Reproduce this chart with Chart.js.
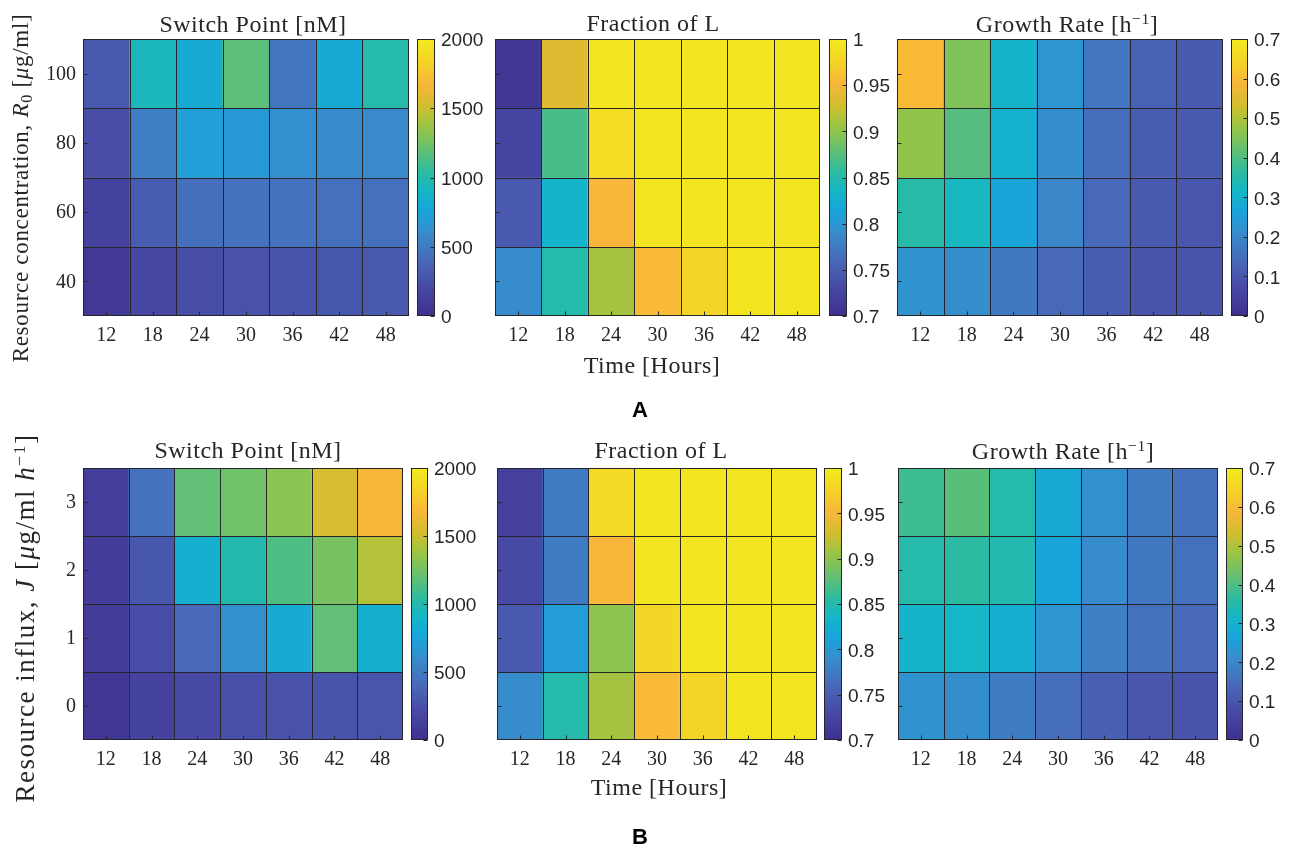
<!DOCTYPE html>
<html>
<head>
<meta charset="utf-8">
<script src="https://cdn.jsdelivr.net/npm/chart.js@4.4.0/dist/chart.umd.min.js"></script>
<style>
body { margin: 0; background: #fff; width: 1290px; height: 850px; position: relative; overflow: hidden;
       font-family: "Liberation Serif", serif; color: #262626; }
canvas { position: absolute; }
.lbl { position: absolute; white-space: nowrap; transform: translate(-50%, -50%); }
.ttl { font-size: 24px; letter-spacing: 0.5px; }
.ylab { transform: translate(-50%, -50%) rotate(-90deg); }
.panel { font-family: "Liberation Sans", Arial, sans-serif; font-weight: bold; font-size: 22px; color: #000; }
sup { font-size: 0.65em; vertical-align: 0.55em; }
sub { font-size: 0.7em; vertical-align: -0.25em; }
</style>
</head>
<body>

<canvas id="hA1"></canvas><canvas id="cA1"></canvas>
<canvas id="hA2"></canvas><canvas id="cA2"></canvas>
<canvas id="hA3"></canvas><canvas id="cA3"></canvas>
<canvas id="hB1"></canvas><canvas id="cB1"></canvas>
<canvas id="hB2"></canvas><canvas id="cB2"></canvas>
<canvas id="hB3"></canvas><canvas id="cB3"></canvas>

<div class="lbl ttl" style="left:253px;top:24px">Switch Point [nM]</div>
<div class="lbl ttl" style="left:653px;top:23px">Fraction of L</div>
<div class="lbl ttl" style="left:1067px;top:24px">Growth Rate [h<sup>−1</sup>]</div>
<div class="lbl ttl" style="left:652px;top:365px">Time [Hours]</div>
<div class="lbl ylab" style="left:22px;top:188px;font-size:23px;letter-spacing:0.7px">Resource concentration, <i>R</i><sub>0</sub> [<i>μ</i>g/ml]</div>
<div class="lbl panel" style="left:640px;top:410px">A</div>

<div class="lbl ttl" style="left:248px;top:450px">Switch Point [nM]</div>
<div class="lbl ttl" style="left:661px;top:450px">Fraction of L</div>
<div class="lbl ttl" style="left:1063px;top:451px">Growth Rate [h<sup>−1</sup>]</div>
<div class="lbl ttl" style="left:659px;top:787px">Time [Hours]</div>
<div class="lbl ylab" style="left:25px;top:618px;font-size:27px;letter-spacing:1.5px">Resource influx, <i>J</i> [<i>μ</i>g/ml <i>h</i><sup>−1</sup>]</div>
<div class="lbl panel" style="left:640px;top:837px">B</div>

<script>
// time points (columns) and the two row variables
const hours = ['12', '18', '24', '30', '36', '42', '48'];
const concRows = [100, 80, 60, 40];     // R0, top row first
const influxRows = [3, 2, 1, 0];        // J, top row first

// colorbar ticks
const switchTicks = [0, 500, 1000, 1500, 2000];
const fractionTicks = [0.7, 0.75, 0.8, 0.85, 0.9, 0.95, 1];
const growthTicks = [0, 0.1, 0.2, 0.3, 0.4, 0.5, 0.6, 0.7];

// panel A (resource concentration)
const switchA = [
  [300, 940, 800, 1180, 470, 800, 1000],
  [230, 520, 720, 680, 620, 600, 590],
  [140, 330, 430, 450, 450, 440, 440],
  [70, 180, 230, 260, 270, 290, 300]
];
const fractionA = [
  [0.71, 0.937, 0.995, 0.995, 0.995, 0.995, 0.995],
  [0.725, 0.868, 0.985, 0.995, 0.995, 0.995, 0.995],
  [0.745, 0.832, 0.952, 0.995, 0.995, 0.995, 0.995],
  [0.79, 0.85, 0.91, 0.955, 0.978, 0.995, 0.995]
];
const growthA = [
  [0.595, 0.45, 0.31, 0.23, 0.165, 0.125, 0.11],
  [0.47, 0.405, 0.30, 0.215, 0.15, 0.115, 0.105],
  [0.355, 0.325, 0.265, 0.195, 0.14, 0.11, 0.1],
  [0.225, 0.215, 0.17, 0.14, 0.115, 0.095, 0.095]
];

// panel B (resource influx)
const switchB = [
  [110, 450, 1190, 1240, 1320, 1540, 1680],
  [100, 290, 840, 990, 1140, 1260, 1440],
  [90, 220, 400, 620, 800, 1190, 850],
  [60, 150, 200, 240, 260, 270, 280]
];
const fractionB = [
  [0.72, 0.775, 0.982, 0.995, 0.995, 0.995, 0.995],
  [0.73, 0.775, 0.952, 0.995, 0.995, 0.995, 0.995],
  [0.745, 0.805, 0.9, 0.98, 0.995, 0.995, 0.995],
  [0.79, 0.85, 0.91, 0.955, 0.978, 0.995, 0.995]
];
const growthB = [
  [0.38, 0.41, 0.35, 0.28, 0.22, 0.175, 0.155],
  [0.35, 0.36, 0.345, 0.265, 0.21, 0.17, 0.155],
  [0.31, 0.315, 0.29, 0.23, 0.185, 0.155, 0.14],
  [0.225, 0.215, 0.18, 0.15, 0.12, 0.1, 0.095]
];

// parula-like colormap, as it looks in the figure
const cmapPos = [0, 0.1, 0.2, 0.3, 0.38, 0.45, 0.52, 0.6, 0.68, 0.76, 0.84, 0.9, 1];
const cmapRgb = [
  [62, 48, 142], [72, 72, 165], [72, 105, 185], [55, 140, 205], [25, 165, 218],
  [20, 182, 200], [45, 187, 160], [100, 191, 115], [150, 197, 70], [210, 190, 45],
  [248, 182, 58], [245, 205, 42], [243, 235, 30]
];

function cmap(t) {
  t = Math.max(0, Math.min(1, t));
  let i = 0;
  while (i < cmapPos.length - 2 && t > cmapPos[i + 1]) i++;
  const f = (t - cmapPos[i]) / (cmapPos[i + 1] - cmapPos[i]);
  const a = cmapRgb[i], b = cmapRgb[i + 1];
  return 'rgb(' + a.map((v, k) => Math.round(v + (b[k] - v) * f)).join(',') + ')';
}

const INK = '#262626';

// cell lines, box around the plot area and MATLAB style inward ticks
const frame = {
  id: 'frame',
  afterDatasetsDraw(chart, args, opts) {
    const ctx = chart.ctx;
    const a = chart.chartArea;
    const xs = chart.scales.x, ys = chart.scales.y;
    const L = Math.round(a.left) + 0.5, R = Math.round(a.right) - 0.5;
    const T = Math.round(a.top) + 0.5, B = Math.round(a.bottom) - 0.5;
    ctx.save();
    ctx.strokeStyle = INK;
    ctx.lineWidth = 1;
    ctx.beginPath();
    if (opts.cells) {
      for (let i = 0; i < xs.ticks.length - 1; i++) {
        const px = Math.round((xs.getPixelForTick(i) + xs.getPixelForTick(i + 1)) / 2) + 0.5;
        ctx.moveTo(px, T); ctx.lineTo(px, B);
      }
      for (let i = 0; i < ys.ticks.length - 1; i++) {
        const v = (ys.ticks[i].value + ys.ticks[i + 1].value) / 2;
        const py = Math.round(ys.getPixelForValue(v)) + 0.5;
        ctx.moveTo(L, py); ctx.lineTo(R, py);
      }
      xs.ticks.forEach((t, i) => {
        const px = Math.round(xs.getPixelForTick(i)) + 0.5;
        ctx.moveTo(px, B); ctx.lineTo(px, B - 4);
      });
    }
    ys.ticks.forEach(t => {
      const py = Math.round(ys.getPixelForValue(t.value)) + 0.5;
      if (opts.ySide === 'left') { ctx.moveTo(L, py); ctx.lineTo(L + 4, py); }
      else { ctx.moveTo(R, py); ctx.lineTo(R - 4, py); }
    });
    ctx.stroke();
    ctx.strokeRect(L, T, R - L, B - T);
    ctx.restore();
  }
};

function place(canvas, left, top, w, h) {
  canvas.width = w; canvas.height = h;
  canvas.style.left = left + 'px'; canvas.style.top = top + 'px';
  canvas.style.width = w + 'px'; canvas.style.height = h + 'px';
}

function noPad(s) {
  s.paddingTop = 0; s.paddingBottom = 0; s.paddingLeft = 0; s.paddingRight = 0;
}

function heatmap(id, rows, values, ticks, box, showY) {
  const canvas = document.getElementById(id);
  const padL = showY ? 60 : 6, padT = 6, padR = 6, padB = 40;
  place(canvas, box.left - padL, box.top - padT, box.w + padL + padR, box.h + padT + padB);
  const step = Math.abs(rows[0] - rows[1]);
  const lo = ticks[0], hi = ticks[ticks.length - 1];
  const datasets = rows.map((r, i) => ({
    data: hours.map(() => [r - step / 2, r + step / 2]),
    backgroundColor: values[i].map(v => cmap((v - lo) / (hi - lo))),
    borderWidth: 0,
    grouped: false,
    barPercentage: 1,
    categoryPercentage: 1
  }));
  new Chart(canvas, {
    type: 'bar',
    data: { labels: hours, datasets: datasets },
    options: {
      responsive: false,
      animation: false,
      layout: { padding: { top: padT, right: padR, left: 0, bottom: 0 } },
      plugins: { legend: { display: false }, tooltip: { enabled: false }, frame: { cells: true, ySide: 'left' } },
      scales: {
        x: {
          offset: true,
          grid: { display: false, drawTicks: false },
          border: { display: false },
          ticks: { font: { family: 'Liberation Serif', size: 20 }, color: INK, padding: 8, maxRotation: 0 },
          afterFit: s => { noPad(s); s.height = padB; }
        },
        y: {
          type: 'linear',
          min: Math.min(...rows) - step / 2,
          max: Math.max(...rows) + step / 2,
          grid: { display: false, drawTicks: false },
          border: { display: false },
          afterBuildTicks: s => { s.ticks = rows.slice().reverse().map(v => ({ value: v })); },
          ticks: { display: showY, font: { family: 'Liberation Serif', size: 20 }, color: INK, padding: 7, labelOffset: 1 },
          afterFit: s => { noPad(s); s.width = padL; }
        }
      }
    },
    plugins: [frame]
  });
}

function colorbar(id, ticks, box) {
  const canvas = document.getElementById(id);
  const padL = 2, padV = 12, labW = 60;
  place(canvas, box.left - padL, box.top - padV, box.w + padL + labW, box.h + 2 * padV);
  const lo = ticks[0], hi = ticks[ticks.length - 1];
  new Chart(canvas, {
    type: 'bar',
    data: {
      labels: [''],
      datasets: [{
        data: [[lo, hi]],
        backgroundColor: c => {
          const a = c.chart.chartArea;
          if (!a) return '#fff';
          const g = c.chart.ctx.createLinearGradient(0, a.bottom, 0, a.top);
          cmapPos.forEach(p => g.addColorStop(p, cmap(p)));
          return g;
        },
        borderWidth: 0,
        barPercentage: 1,
        categoryPercentage: 1
      }]
    },
    options: {
      responsive: false,
      animation: false,
      layout: { padding: { top: padV, bottom: padV, left: padL, right: 0 } },
      plugins: { legend: { display: false }, tooltip: { enabled: false }, frame: { cells: false, ySide: 'right' } },
      scales: {
        x: { display: false, afterFit: noPad },
        y: {
          position: 'right',
          min: lo, max: hi,
          grid: { display: false, drawTicks: false },
          border: { display: false },
          afterBuildTicks: s => { s.ticks = ticks.map(v => ({ value: v })); },
          ticks: { font: { family: 'Liberation Sans', size: 19 }, color: INK, padding: 6, labelOffset: 2, callback: v => String(v) },
          afterFit: s => { noPad(s); s.width = labW; }
        }
      }
    },
    plugins: [frame]
  });
}

// plot boxes
const rowA = { top: 39, h: 277 };
const rowB = { top: 468, h: 272 };

heatmap('hA1', concRows, switchA, switchTicks, { left: 83, top: rowA.top, w: 326, h: rowA.h }, true);
heatmap('hA2', concRows, fractionA, fractionTicks, { left: 495, top: rowA.top, w: 325, h: rowA.h }, false);
heatmap('hA3', concRows, growthA, growthTicks, { left: 897, top: rowA.top, w: 326, h: rowA.h }, false);
colorbar('cA1', switchTicks, { left: 417, top: rowA.top, w: 18, h: rowA.h });
colorbar('cA2', fractionTicks, { left: 829, top: rowA.top, w: 18, h: rowA.h });
colorbar('cA3', growthTicks, { left: 1231, top: rowA.top, w: 17, h: rowA.h });

heatmap('hB1', influxRows, switchB, switchTicks, { left: 83, top: rowB.top, w: 320, h: rowB.h }, true);
heatmap('hB2', influxRows, fractionB, fractionTicks, { left: 497, top: rowB.top, w: 320, h: rowB.h }, false);
heatmap('hB3', influxRows, growthB, growthTicks, { left: 898, top: rowB.top, w: 320, h: rowB.h }, false);
colorbar('cB1', switchTicks, { left: 411, top: rowB.top, w: 17, h: rowB.h });
colorbar('cB2', fractionTicks, { left: 824, top: rowB.top, w: 18, h: rowB.h });
colorbar('cB3', growthTicks, { left: 1226, top: rowB.top, w: 17, h: rowB.h });
</script>
</body>
</html>
